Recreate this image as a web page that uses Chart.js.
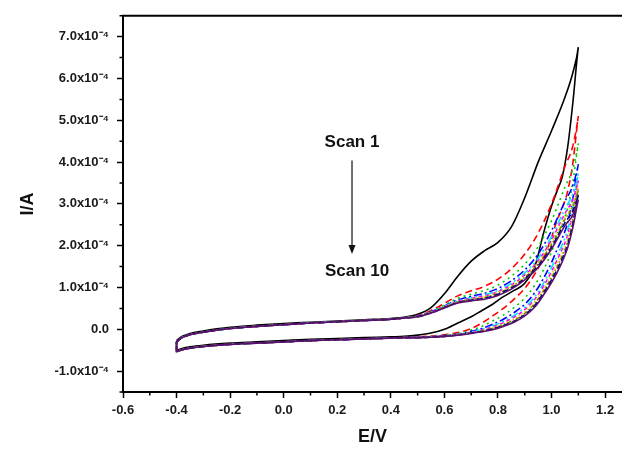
<!DOCTYPE html>
<html><head><meta charset="utf-8">
<script src="https://cdn.jsdelivr.net/npm/chart.js@4/dist/chart.umd.min.js"></script>
<style>html,body{margin:0;padding:0;background:#fff;overflow:hidden}#wrap{width:622px;height:453px;position:relative}</style>
</head><body><div id="wrap"><canvas id="c" width="622" height="453"></canvas></div>
<script>
// Potential grids (V)
const FWD_E_LOW  = [-0.40,-0.38,-0.35,-0.30,-0.25,-0.20,-0.10,0.00,0.10,0.20,0.30,0.40,0.45];
const FWD_E_HIGH = [0.50,0.55,0.60,0.65,0.70,0.75,0.80,0.85,0.90,0.95,1.00,1.05,1.08,1.10];
const REV_E_HIGH = [1.08,1.06,1.04,1.02,1.00,0.97,0.94,0.90,0.86,0.82,0.78,0.74,0.70,0.65,0.60,0.55,0.50];
const REV_E_LOW  = [0.45,0.40,0.30,0.20,0.10,0.00,-0.10,-0.20,-0.30,-0.35,-0.38,-0.40,-0.40];

// Currents (x10^-4 A), low-potential parts
const SCAN1_FWD_LOW = [-0.27,-0.17,-0.10,-0.04,0.01,0.05,0.10,0.14,0.17,0.20,0.23,0.26,0.29];
const SCAN1_REV_LOW = [-0.17,-0.18,-0.20,-0.22,-0.24,-0.27,-0.30,-0.33,-0.38,-0.42,-0.46,-0.50,-0.30];
const BASE_FWD_LOW  = [-0.30,-0.20,-0.13,-0.07,-0.02,0.02,0.07,0.11,0.15,0.18,0.21,0.24,0.27];
const BASE_REV_LOW  = [-0.20,-0.21,-0.23,-0.25,-0.27,-0.30,-0.33,-0.36,-0.41,-0.45,-0.49,-0.53,-0.30];

// Forward sweep, high-potential part (E 0.50 .. 1.10)
const S1_FWD  = [0.36,0.52,0.85,1.27,1.63,1.88,2.08,2.45,3.15,4.00,4.75,5.55,6.15,6.75];
const S2_FWD  = [0.33,0.45,0.62,0.80,0.92,1.03,1.20,1.45,1.80,2.30,3.00,3.90,4.40,5.10];
const S3_FWD  = [0.32,0.43,0.58,0.74,0.84,0.93,1.06,1.27,1.56,1.98,2.60,3.40,3.85,4.45];
const S4_FWD  = [0.32,0.42,0.56,0.70,0.79,0.86,0.98,1.16,1.42,1.80,2.36,3.06,3.45,3.95];
const S5_FWD  = [0.31,0.41,0.55,0.68,0.76,0.82,0.93,1.10,1.35,1.70,2.22,2.88,3.25,3.72];
const S6_FWD  = [0.31,0.41,0.54,0.67,0.74,0.80,0.90,1.06,1.30,1.64,2.14,2.77,3.12,3.56];
const S7_FWD  = [0.31,0.40,0.53,0.66,0.72,0.78,0.88,1.04,1.27,1.60,2.08,2.70,3.03,3.45];
const S8_FWD  = [0.30,0.40,0.53,0.65,0.71,0.76,0.86,1.01,1.24,1.56,2.03,2.63,2.95,3.35];
const S9_FWD  = [0.30,0.39,0.52,0.64,0.70,0.74,0.84,0.99,1.21,1.52,1.97,2.55,2.84,3.22];
const S10_FWD = [0.30,0.39,0.51,0.63,0.68,0.72,0.81,0.96,1.18,1.48,1.92,2.48,2.74,3.10];

// Reverse sweep, high-potential part (E 1.08 .. 0.50)
const S1_REV  = [5.45,4.35,3.65,3.30,2.95,2.30,1.55,1.10,0.93,0.78,0.60,0.45,0.30,0.15,0.00,-0.09,-0.14];
const S2_REV  = [4.00,3.30,2.90,2.60,2.20,1.72,1.35,0.98,0.72,0.50,0.32,0.15,0.02,-0.08,-0.13,-0.16,-0.18];
const S3_REV  = [3.55,2.90,2.50,2.20,1.85,1.42,1.08,0.75,0.52,0.34,0.20,0.07,-0.02,-0.10,-0.14,-0.17,-0.19];
const S4_REV  = [3.15,2.55,2.18,1.90,1.60,1.22,0.90,0.60,0.40,0.24,0.12,0.02,-0.05,-0.12,-0.15,-0.18,-0.19];
const S5_REV  = [2.95,2.38,2.03,1.75,1.48,1.10,0.80,0.52,0.33,0.19,0.08,0.00,-0.07,-0.12,-0.16,-0.18,-0.20];
const S6_REV  = [2.82,2.25,1.92,1.65,1.38,1.03,0.74,0.47,0.29,0.16,0.06,-0.02,-0.08,-0.13,-0.16,-0.18,-0.20];
const S7_REV  = [2.72,2.16,1.84,1.57,1.31,0.97,0.69,0.42,0.25,0.13,0.04,-0.03,-0.08,-0.13,-0.16,-0.19,-0.20];
const S8_REV  = [2.62,2.08,1.76,1.49,1.24,0.92,0.64,0.38,0.22,0.11,0.02,-0.04,-0.09,-0.13,-0.17,-0.19,-0.20];
const S9_REV  = [2.53,2.01,1.69,1.42,1.18,0.87,0.59,0.35,0.19,0.09,0.01,-0.05,-0.09,-0.14,-0.17,-0.19,-0.20];
const S10_REV = [2.45,1.95,1.62,1.35,1.12,0.82,0.55,0.32,0.17,0.07,-0.01,-0.06,-0.10,-0.14,-0.17,-0.19,-0.20];

const SCAN_NAMES = ['Scan 1','Scan 2','Scan 3','Scan 4','Scan 5','Scan 6','Scan 7','Scan 8','Scan 9','Scan 10'];
const X_TICKS = [-0.6,-0.4,-0.2,0.0,0.2,0.4,0.6,0.8,1.0,1.2];
const X_MINOR = [-0.5,-0.3,-0.1,0.1,0.3,0.5,0.7,0.9,1.1];
const Y_TICKS = [-1,0,1,2,3,4,5,6,7];
const Y_MINOR = [-1.5,-0.5,0.5,1.5,2.5,3.5,4.5,5.5,6.5,7.5];

const FWD_LIST = [S1_FWD,S2_FWD,S3_FWD,S4_FWD,S5_FWD,S6_FWD,S7_FWD,S8_FWD,S9_FWD,S10_FWD];
const REV_LIST = [S1_REV,S2_REV,S3_REV,S4_REV,S5_REV,S6_REV,S7_REV,S8_REV,S9_REV,S10_REV];
const COLORS = ['#000000','#ff0000','#00cc00','#0000ff','#00e5ff','#ff00ff','#e6e600','#808000','#000080','#5a1070'];
const DASHES = [[],[7,4],[2,4],[8,3,2,3],[8,3,2,3,2,3],[4,3],[1.5,2],[4,2,1.5,2],[6,3],[]];

const FONT = 'Arial, "Liberation Sans", Helvetica, sans-serif';

function pairs(es, is){ return es.map((e,i)=>({x:e,y:is[i]})); }
const datasets = SCAN_NAMES.map((name,k)=>{
  const fwdI = (k===0 ? SCAN1_FWD_LOW : BASE_FWD_LOW).concat(FWD_LIST[k]);
  const revI = REV_LIST[k].concat(k===0 ? SCAN1_REV_LOW : BASE_REV_LOW);
  const pts = pairs(FWD_E_LOW.concat(FWD_E_HIGH), fwdI).concat(pairs(REV_E_HIGH.concat(REV_E_LOW), revI));
  return {
    label:name, data:pts, showLine:true, borderColor:COLORS[k], backgroundColor:COLORS[k],
    borderWidth:1.6, borderDash:DASHES[k], pointRadius:0, cubicInterpolationMode:'monotone',
    fill:false, order:10-k-1
  };
});

const deco = {
  id:'deco',
  afterDatasetsDraw(chart){
    const {ctx, chartArea:a, scales:{x,y}} = chart;
    ctx.save();
    ctx.strokeStyle='#000'; ctx.lineWidth=2;
    ctx.beginPath(); ctx.moveTo(a.left-1,a.top); ctx.lineTo(a.right,a.top); ctx.stroke();
    ctx.lineWidth=1.5; ctx.beginPath();
    X_MINOR.forEach(v=>{const p=x.getPixelForValue(v); ctx.moveTo(p,a.bottom); ctx.lineTo(p,a.bottom+3.5);});
    Y_MINOR.forEach(v=>{const p=y.getPixelForValue(v); ctx.moveTo(a.left,p); ctx.lineTo(a.left-3.5,p);});
    ctx.stroke();
    // annotation
    ctx.fillStyle='#111'; ctx.font='bold 17px '+FONT; ctx.textAlign='center'; ctx.textBaseline='middle';
    ctx.fillText('Scan 1', x.getPixelForValue(0.255), y.getPixelForValue(4.47));
    ctx.fillText('Scan 10', x.getPixelForValue(0.274), y.getPixelForValue(1.39));
    const ax = x.getPixelForValue(0.255), y0 = y.getPixelForValue(4.04), y1 = y.getPixelForValue(1.80);
    ctx.strokeStyle='#111'; ctx.lineWidth=1.2;
    ctx.beginPath(); ctx.moveTo(ax,y0); ctx.lineTo(ax,y1-6); ctx.stroke();
    ctx.beginPath(); ctx.moveTo(ax,y1); ctx.lineTo(ax-3.5,y1-9); ctx.lineTo(ax+3.5,y1-9); ctx.closePath(); ctx.fill();
    ctx.restore();
  }
};

new Chart(document.getElementById('c').getContext('2d'), {
  type:'scatter',
  data:{datasets},
  plugins:[deco],
  options:{
    responsive:false, animation:false, devicePixelRatio:1,
    layout:{padding:{top:15,right:0,bottom:0,left:0}},
    plugins:{legend:{display:false}, tooltip:{enabled:false}},
    scales:{
      x:{
        type:'linear', min:-0.6, max:1.263,
        afterBuildTicks:s=>{ s.ticks = X_TICKS.map(v=>({value:v})); },
        afterFit:s=>{ s.height = 453-392; },
        ticks:{ callback:v=>Number(v).toFixed(1), font:{family:FONT,size:13,weight:'bold'}, color:'#1a1a1a', padding:5, maxRotation:0, autoSkip:false },
        grid:{ display:true, drawOnChartArea:false, drawTicks:true, tickLength:6, tickWidth:1.5, tickColor:'#000' },
        border:{ display:true, color:'#000', width:2 },
        title:{ display:true, text:'E/V', font:{family:FONT,size:18,weight:'bold'}, color:'#111', padding:{top:0,bottom:5} }
      },
      y:{
        type:'linear', min:-1.5, max:7.5,
        afterBuildTicks:s=>{ s.ticks = Y_TICKS.map(v=>({value:v})); },
        afterFit:s=>{ s.width = 123; },
        ticks:{ callback:v=> v===0 ? '0.0' : Number(v).toFixed(1)+'x10\u207B\u2074', font:{family:FONT,size:13,weight:'bold'}, color:'#1a1a1a', padding:8 },
        grid:{ display:true, drawOnChartArea:false, drawTicks:true, tickLength:6, tickWidth:1.5, tickColor:'#000' },
        border:{ display:true, color:'#000', width:2 },
        title:{ display:true, text:'I/A', font:{family:FONT,size:18,weight:'bold'}, color:'#111', padding:{top:17,bottom:0} }
      }
    }
  }
});
</script></body></html>
